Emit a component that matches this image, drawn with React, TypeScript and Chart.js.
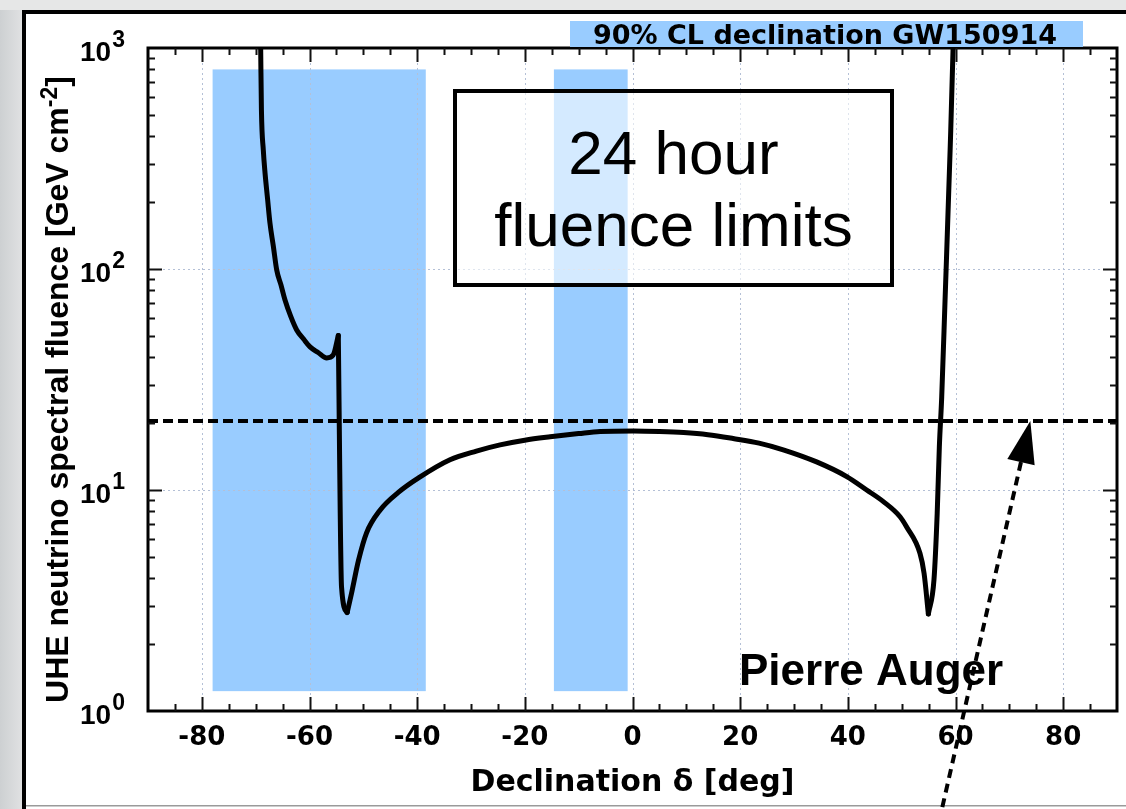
import React, { useEffect, useRef } from "react";
import { Chart, registerables } from "chart.js";

Chart.register(...registerables);

// Declination (deg) and the 24-hour UHE neutrino fluence limit (GeV cm^-2)
const declination = [
  -69.15, -69.07, -68.93, -68.58, -68.26, -67.8, -67.34, -66.72, -66.09, -65.3,
  -64.55, -63.5, -62.38, -61.1, -59.9, -58.4, -56.8, -55.6, -54.65, -54.05,
  -53.0, -52.2, -50.9, -49.4, -46.9, -43.5, -39.6, -33.9, -29.0, -24.6,
  -20.0, -15.3, -10.0, -6.0, 0.2, 5.0, 9.5, 14.0, 18.7, 23.5,
  28.0, 34.2, 39.8, 43.5, 46.6, 49.7, 50.9, 53.4, 54.16, 54.96,
  56.0, 56.6, 57.0, 57.44, 58.06, 59.0, 59.55, 59.65,
];
const fluence = [
  1400, 1000, 524, 345, 272, 209, 161, 127, 98.9, 84.7,
  72.4, 61.2, 53.0, 48.2, 44.4, 41.9, 39.6, 40.8, 50.0, 3.64,
  2.79, 3.4, 4.8, 6.4, 8.1, 9.75, 11.4, 13.7, 15.0, 16.0,
  16.8, 17.4, 18.0, 18.4, 18.5, 18.4, 18.2, 17.8, 17.1, 16.3,
  15.2, 13.4, 11.5, 10.0, 8.86, 7.57, 6.82, 5.17, 4.2, 2.75,
  3.92, 7.84, 15.7, 26.4, 72.4, 345, 1000, 1340,
];
// Sharp corners of the limit curve (declination, deg)
const cuspDeclinations = [-54.65, -53.0, 54.96];

// Dashed reference level
const referenceLevel = 20.5;
const referenceSpan = [-90, 90];

// 90% CL declination bands of GW150914
const bandFrom = [-78.0, -14.6];
const bandTo = [-38.4, -0.9];
const bandLow = 1.23;
const bandHigh = 800;

// Axis ticks
const xMajorTicks = [-80, -60, -40, -20, 0, 20, 40, 60, 80];
const xMinorStep = 5;
const yDecades = [1, 10, 100, 1000];
const yExponents = ["0", "1", "2", "3"];

// Annotation texts
const titleText = "90% CL declination GW150914";
const noteLines = ["24 hour", "fluence limits"];
const observatoryText = "Pierre Auger";
const xTitle = "Declination \u03b4 [deg]";
const yTitleMain = "UHE neutrino spectral fluence [GeV cm";
const yTitleSup = "-2";
const yTitleEnd = "]";
const arrowTipDeclination = 73.9;

const BOLD_SANS = '"Liberation Sans", Arial, sans-serif';
const ROOT_BOLD = '"DejaVu Sans", sans-serif';

// Split the curve at its cusps so each smooth piece can be splined on its own
function curvePieces() {
  const pieces: { x: number; y: number }[][] = [[]];
  declination.forEach((d, i) => {
    const pt = { x: d, y: fluence[i] };
    pieces[pieces.length - 1].push(pt);
    if (cuspDeclinations.includes(d)) pieces.push([pt]);
  });
  return pieces.filter((p) => p.length > 1);
}

const decorations = {
  id: "decorations",
  beforeDraw(chart: any) {
    const { ctx, width, height, chartArea } = chart;
    const xs = chart.scales.x;
    const ys = chart.scales.y;
    ctx.save();
    // backdrop and panel
    ctx.fillStyle = "#e6e7e7";
    ctx.fillRect(0, 0, width, height);
    const g = ctx.createLinearGradient(0, 0, 22, 0);
    g.addColorStop(0, "#cdd0d2");
    g.addColorStop(1, "#e0e1e2");
    ctx.fillStyle = g;
    ctx.fillRect(0, 10, 22, height - 10);
    ctx.fillStyle = "#ffffff";
    ctx.fillRect(22, 10, width - 22, height - 10);
    ctx.fillStyle = "#000000";
    ctx.fillRect(22, 10, width - 22, 4);
    ctx.fillRect(22, 10, 4, height - 10);
    ctx.fillStyle = "#9a9a9a";
    ctx.fillRect(26, 805, width - 26, 1.5);

    // declination bands
    ctx.fillStyle = "#99ccff";
    const yTop = ys.getPixelForValue(bandHigh);
    const yBot = ys.getPixelForValue(bandLow);
    for (let i = 0; i < bandFrom.length; i++) {
      const x0 = xs.getPixelForValue(bandFrom[i]);
      const x1 = xs.getPixelForValue(bandTo[i]);
      ctx.fillRect(x0, yTop, x1 - x0, yBot - yTop);
    }

    // dotted grid
    ctx.strokeStyle = "#b4c0d6";
    ctx.lineWidth = 1;
    ctx.setLineDash([2, 3]);
    ctx.beginPath();
    for (const v of xMajorTicks) {
      const px = Math.round(xs.getPixelForValue(v)) + 0.5;
      ctx.moveTo(px, chartArea.top);
      ctx.lineTo(px, chartArea.bottom);
    }
    for (const v of yDecades.slice(1, -1)) {
      const py = Math.round(ys.getPixelForValue(v)) + 0.5;
      ctx.moveTo(chartArea.left, py);
      ctx.lineTo(chartArea.right, py);
    }
    ctx.stroke();
    ctx.restore();
  },
  beforeDatasetsDraw(chart: any) {
    const { ctx } = chart;
    ctx.save();
    // note box
    const bx = 455, by = 91, bw = 437, bh = 194;
    ctx.fillStyle = "rgba(255,255,255,0.58)";
    ctx.fillRect(bx, by, bw, bh);
    ctx.strokeStyle = "#000";
    ctx.lineWidth = 4;
    ctx.strokeRect(bx, by, bw, bh);
    ctx.fillStyle = "#000";
    ctx.font = `62px ${BOLD_SANS}`;
    ctx.textAlign = "center";
    ctx.textBaseline = "alphabetic";
    ctx.fillText(noteLines[0], bx + bw / 2, 174);
    ctx.fillText(noteLines[1], bx + bw / 2, 246);
    ctx.restore();
  },
  afterDatasetsDraw(chart: any) {
    const { ctx, chartArea } = chart;
    const xs = chart.scales.x;
    const ys = chart.scales.y;
    const { left, right, top, bottom } = chartArea;
    ctx.save();

    // frame
    ctx.strokeStyle = "#000";
    ctx.lineWidth = 3;
    ctx.strokeRect(left, top, right - left, bottom - top);

    // inward tick marks
    ctx.lineWidth = 2;
    ctx.strokeStyle = "#111";
    ctx.beginPath();
    for (let v = -90 + xMinorStep; v < 90; v += xMinorStep) {
      const px = Math.round(xs.getPixelForValue(v)) + 0.5;
      const len = Math.abs(v) % 20 === 0 ? 14 : 7;
      ctx.moveTo(px, bottom);
      ctx.lineTo(px, bottom - len);
      ctx.moveTo(px, top);
      ctx.lineTo(px, top + len);
    }
    for (const d of yDecades.slice(0, -1)) {
      for (let m = 1; m <= 9; m++) {
        const v = d * m;
        if (v <= 1) continue;
        const py = Math.round(ys.getPixelForValue(v)) + 0.5;
        const len = m === 1 ? 14 : 7;
        ctx.moveTo(left, py);
        ctx.lineTo(left + len, py);
        ctx.moveTo(right, py);
        ctx.lineTo(right - len, py);
      }
    }
    ctx.stroke();

    // y tick labels 10^n
    ctx.fillStyle = "#000";
    ctx.textAlign = "left";
    ctx.textBaseline = "alphabetic";
    yDecades.forEach((v, i) => {
      const py = ys.getPixelForValue(v);
      ctx.font = `bold 28px ${BOLD_SANS}`;
      ctx.fillText("10", 80, py + 13);
      const w = ctx.measureText("10").width;
      ctx.font = `bold 23px ${BOLD_SANS}`;
      ctx.fillText(yExponents[i], 80 + w + 1, py - 1);
    });

    // y axis title
    ctx.save();
    ctx.translate(68, (top + bottom) / 2 + 10);
    ctx.rotate(-Math.PI / 2);
    ctx.font = `bold 32px ${BOLD_SANS}`;
    const w1 = ctx.measureText(yTitleMain).width;
    const w3 = ctx.measureText(yTitleEnd).width;
    ctx.font = `bold 23px ${BOLD_SANS}`;
    const w2 = ctx.measureText(yTitleSup).width;
    const x0 = -(w1 + w2 + w3) / 2;
    ctx.font = `bold 32px ${BOLD_SANS}`;
    ctx.fillText(yTitleMain, x0, 0);
    ctx.fillText(yTitleEnd, x0 + w1 + w2, 0);
    ctx.font = `bold 23px ${BOLD_SANS}`;
    ctx.fillText(yTitleSup, x0 + w1, -11);
    ctx.restore();

    // title strip
    ctx.fillStyle = "#99ccff";
    ctx.fillRect(570, 21, 513, 26);
    ctx.fillStyle = "#000";
    ctx.font = `bold 27px ${ROOT_BOLD}`;
    ctx.textAlign = "right";
    ctx.fillText(titleText, 1057, 44);

    // observatory label
    ctx.textAlign = "left";
    ctx.font = `bold 44px ${BOLD_SANS}`;
    ctx.fillText(observatoryText, 739, 685);

    // arrow pointing at the reference level
    const tipX = xs.getPixelForValue(arrowTipDeclination);
    const tipY = ys.getPixelForValue(referenceLevel);
    const dx = 88, dy = -386;
    const L = Math.hypot(dx, dy);
    const ux = dx / L, uy = dy / L;
    const headLen = 42, headHalf = 14;
    const baseX = tipX - ux * headLen, baseY = tipY - uy * headLen;
    ctx.strokeStyle = "#000";
    ctx.lineWidth = 4;
    ctx.setLineDash([9, 6]);
    ctx.beginPath();
    ctx.moveTo(tipX - dx, tipY - dy);
    ctx.lineTo(baseX, baseY);
    ctx.stroke();
    ctx.setLineDash([]);
    ctx.beginPath();
    ctx.moveTo(tipX, tipY);
    ctx.lineTo(baseX - uy * headHalf, baseY + ux * headHalf);
    ctx.lineTo(baseX + uy * headHalf, baseY - ux * headHalf);
    ctx.closePath();
    ctx.fill();

    ctx.restore();
  },
};

export default function App() {
  const canvasRef = useRef<HTMLCanvasElement | null>(null);

  useEffect(() => {
    const canvas = canvasRef.current;
    if (!canvas) return;
    const referenceLine = referenceSpan.map((d) => ({ x: d, y: referenceLevel }));
    const curveSets = curvePieces().map((piece, i) => ({
      label: `24 h fluence limit ${i + 1}`,
      data: piece,
      borderColor: "#000",
      borderWidth: 5,
      borderJoinStyle: "round",
      borderCapStyle: "round",
      pointRadius: 0,
      cubicInterpolationMode: "monotone",
      fill: false,
    }));

    const chart = new Chart(canvas, {
      type: "line",
      data: {
        datasets: [
          ...curveSets,
          {
            label: "reference",
            data: referenceLine,
            borderColor: "#000",
            borderWidth: 4,
            borderDash: [10, 5],
            pointRadius: 0,
            fill: false,
          },
        ],
      },
      options: {
        responsive: false,
        animation: false,
        devicePixelRatio: 1,
        events: [],
        layout: { padding: { left: 148, right: 9, top: 48, bottom: 0 } },
        plugins: {
          legend: { display: false },
          tooltip: { enabled: false },
        },
        scales: {
          x: {
            type: "linear",
            min: -90,
            max: 90,
            grid: { display: false, drawTicks: false },
            border: { display: false },
            afterBuildTicks: (scale: any) => {
              scale.ticks = xMajorTicks.map((v) => ({ value: v }));
            },
            afterFit: (scale: any) => {
              scale.height = 98;
            },
            ticks: {
              autoSkip: false,
              maxRotation: 0,
              padding: 12,
              color: "#000",
              font: { family: ROOT_BOLD, weight: "bold", size: 26 },
              callback: (v: any) => String(v),
            },
            title: {
              display: true,
              text: xTitle,
              color: "#000",
              font: { family: ROOT_BOLD, weight: "bold", size: 30 },
              padding: { top: 0, bottom: 8 },
            },
          },
          y: {
            type: "logarithmic",
            min: 1,
            max: 1000,
            display: false,
          },
        },
      },
      plugins: [decorations],
    } as any);

    return () => chart.destroy();
  }, []);

  return (
    <div style={{ position: "fixed", left: 0, top: 0, width: 1126, height: 809 }}>
      <canvas ref={canvasRef} width={1126} height={809} />
    </div>
  );
}
